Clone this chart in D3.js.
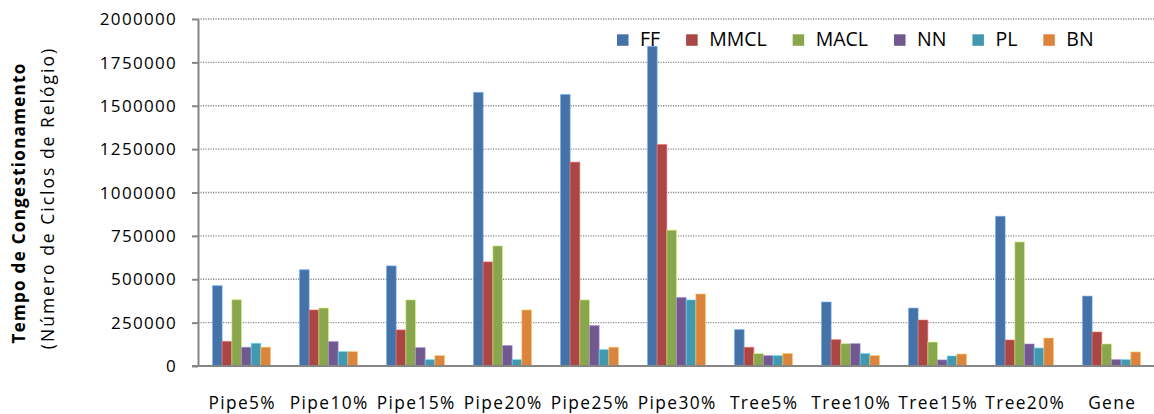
<!DOCTYPE html>
<html><head><meta charset="utf-8">
<script src="https://cdn.jsdelivr.net/npm/d3@7"></script>
<style>html,body{margin:0;padding:0;background:#fff;} svg{display:block}</style>
</head><body><svg id="c" width="1154" height="414"></svg>
<script>
const categories = ["Pipe5%","Pipe10%","Pipe15%","Pipe20%","Pipe25%","Pipe30%","Tree5%","Tree10%","Tree15%","Tree20%","Gene"];
const seriesNames = ["FF","MMCL","MACL","NN","PL","BN"];
const seriesColors = ["#4572A7","#AA4643","#89A54E","#71588F","#4198AF","#DB843D"];
const ffValues   = [463000, 555000, 577000, 1577000, 1565000, 1842000, 210000, 369000, 334000, 863000, 403000];
const mmclValues = [142000, 323000, 208000,  600000, 1175000, 1277000, 108000, 152000, 265000, 150000, 196000];
const maclValues = [382000, 334000, 381000,  692000,  381000,  783000,  72000, 129000, 138000, 715000, 127000];
const nnValues   = [108000, 141000, 106000,  118000,  233000,  395000,  60000, 129000,  35000, 127000,  37000];
const plValues   = [131000,  83000,  37000,   37000,   95000,  381000,  60000,  72000,  58000, 104000,  37000];
const bnValues   = [108000,  83000,  60000,  323000,  108000,  415000,  72000,  60000,  69000, 161000,  81000];
const yTicks = [0, 250000, 500000, 750000, 1000000, 1250000, 1500000, 1750000, 2000000];
const titleLine1 = "Tempo de Congestionamento";
const titleLine2 = "(Número de Ciclos de Relógio)";

const seriesValues = [ffValues, mmclValues, maclValues, nnValues, plValues, bnValues];
const FONT = "'Open Sans', 'Noto Sans', sans-serif";

const svg = d3.select("#c");
const plotLeft = 198, plotRight = 1155, plotTop = 19, plotBottom = 366;

const x = d3.scaleBand().domain(categories).range([plotLeft, plotRight]).paddingInner(1/3).paddingOuter(1/6);
const xs = d3.scaleBand().domain(seriesNames).range([0, x.bandwidth()]).padding(0);
const y = d3.scaleLinear().domain([0, 2000000]).range([plotBottom, plotTop]);
const color = d3.scaleOrdinal().domain(seriesNames).range(seriesColors);

// gridlines
svg.append("g").selectAll("line").data(yTicks.filter(d => d > 0)).join("line")
  .attr("x1", plotLeft).attr("x2", 1154)
  .attr("y1", d => y(d)).attr("y2", d => y(d))
  .attr("stroke", "#8a8a8a").attr("stroke-width", 1.3).attr("stroke-dasharray", "1.2,1.3");

// bars
const rows = [];
categories.forEach((c, i) => seriesNames.forEach((s, j) => rows.push({c, s, v: seriesValues[j][i]})));
svg.append("g").selectAll("rect").data(rows).join("rect")
  .attr("x", d => x(d.c) + xs(d.s))
  .attr("y", d => y(d.v))
  .attr("width", xs.bandwidth())
  .attr("height", d => y(0) - y(d.v))
  .attr("fill", d => color(d.s))
  .attr("stroke", d => d3.color(color(d.s)).brighter(1.2))
  .attr("stroke-opacity", 0.55)
  .attr("stroke-width", 1);

// y axis
const yAxis = svg.append("g").attr("transform", `translate(${plotLeft},0)`)
  .call(d3.axisLeft(y).tickValues(yTicks).tickFormat(d3.format("d")).tickSize(6).tickSizeOuter(0).tickPadding(15));
yAxis.select(".domain").attr("stroke", "#868686").attr("stroke-width", 2);
yAxis.selectAll(".tick line").attr("stroke", "#868686").attr("stroke-width", 2);
yAxis.selectAll(".tick text").attr("font-family", FONT).attr("font-size", 17).attr("letter-spacing", "1.3px")
  .attr("fill", "#000").attr("dy", "0.33em");

// x axis
const xAxis = svg.append("g").attr("transform", `translate(0,${plotBottom})`)
  .call(d3.axisBottom(x).tickSize(0).tickSizeOuter(0).tickPadding(0));
xAxis.select(".domain").attr("stroke", "#868686").attr("stroke-width", 2).attr("d", `M${plotLeft - 6},0H1154`);
xAxis.selectAll(".tick text").attr("font-family", FONT).attr("font-size", 17.3).attr("letter-spacing", "1.4px")
  .attr("fill", "#000").attr("dy", 0).attr("y", 43).attr("dx", "0.7px");

// axis title
const title = svg.append("g").attr("transform", "rotate(-90)");
title.append("text").text(titleLine1)
  .attr("x", -203).attr("y", 25).attr("text-anchor", "middle")
  .attr("font-family", FONT).attr("font-weight", "bold").attr("font-size", 17).attr("letter-spacing", "1.3px");
title.append("text").text(titleLine2)
  .attr("x", -198).attr("y", 54).attr("text-anchor", "middle")
  .attr("font-family", FONT).attr("font-size", 17.5).attr("letter-spacing", "2px");

// legend
const legend = svg.append("g");
let lx = 617;
seriesNames.forEach(s => {
  const g = legend.append("g");
  g.append("rect").attr("x", lx).attr("y", 34.3).attr("width", 11.5).attr("height", 11.5).attr("fill", color(s));
  const t = g.append("text").text(s).attr("x", lx + 23).attr("y", 45.7)
    .attr("font-family", FONT).attr("font-size", 19.5).attr("fill", "#000");
  lx += 23 + t.node().getComputedTextLength() + 26;
});
</script>
</body></html>
